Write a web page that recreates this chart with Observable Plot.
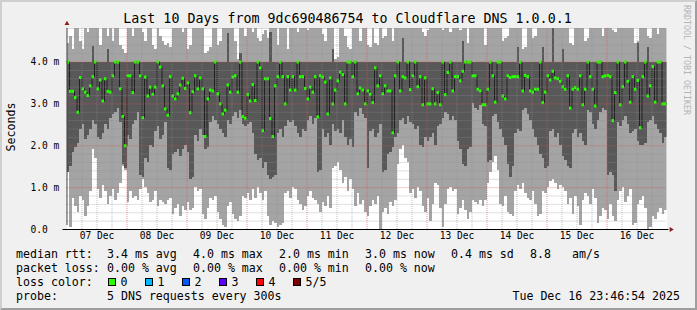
<!DOCTYPE html>
<html><head><meta charset="utf-8">
<script src="https://cdn.jsdelivr.net/npm/d3@7"></script>
<script src="https://cdn.jsdelivr.net/npm/@observablehq/plot@0.6"></script>
<style>
html,body{margin:0;padding:0;background:#f0f0f0;}
#wrap{position:relative;width:697px;height:310px;background:#f0f0f0;overflow:hidden;font-family:"DejaVu Sans Mono",monospace;}
#frame{position:absolute;left:0;top:0;width:697px;height:310px;box-sizing:border-box;border-top:2px solid #cfcfcf;border-left:2px solid #cfcfcf;border-right:2px solid #9e9e9e;border-bottom:2px solid #9e9e9e;pointer-events:none;}
#chart{position:absolute;left:0;top:0;}
#text{position:absolute;left:0;top:0;font-family:"DejaVu Sans Mono",monospace;}
</style></head>
<body><div id="wrap"><div id="chart"></div><svg id="text" width="697" height="310"></svg><div id="frame"></div></div>
<script>
// ---- data (ms), one value per 1-hour step, 07 Dec 00:00 -> 17 Dec 00:00 (UTC) ----
const startTime = Date.UTC(2025, 11, 7, 0, 0, 0);
const endTime = Date.UTC(2025, 11, 17, 0, 0, 0);
const stepMs = 3600 * 1000;

const medianRtt = [
 4.0,3.3,3.3,3.15,2.8,3.63,3.36,3.28,3.2,3.43, 3.65,4.0,3.36,3.57,3.07,3.6,3.3,3.28,3.67,4.0, 4.0,3.36,2.7,2.0,3.67,3.67,3.27,4.0,4.0,3.67, 2.67,3.64,3.19,3.4,3.23,3.4,4.0,3.88,3.43,2.88,
 2.73,3.65,3.19,3.12,3.24,3.45,3.61,3.37,3.5,2.79, 3.29,3.67,3.36,3.62,3.36,2.22,3.12,3.33,3.31,4.0, 3.24,3.0,2.76,2.85,3.45,3.28,3.64,3.67,3.28,4.0, 2.7,2.66,3.22,3.07,3.46,3.08,4.0,3.86,2.36,3.6,
 3.6,2.65,2.22,3.43,3.65,4.0,3.65,3.0,3.65,3.33, 3.65,3.33,4.0,3.65,3.65,3.37,3.12,3.4,3.28,3.65, 2.69,3.67,3.64,3.52,2.76,3.62,3.0,3.33,3.55,3.76, 3.7,3.0,4.0,4.0,3.65,4.0,3.24,3.38,3.33,3.0,
 3.31,3.23,3.03,3.86,3.43,3.67,3.24,3.43,3.31,3.31, 2.31,3.67,4.0,3.31,3.65,3.62,4.0,3.34,3.67,4.0, 3.41,3.65,2.98,3.62,3.0,3.0,3.36,3.0,3.27,2.98, 4.0,3.22,3.75,4.0,3.31,3.65,3.65,3.55,3.78,4.0,
 4.0,4.0,3.67,3.67,3.35,3.31,2.98,2.98,3.35,4.0, 3.67,3.04,4.0,4.0,3.19,3.12,3.67,3.63,3.65,3.65, 3.65,4.0,3.31,3.68,3.65,3.31,3.28,3.35,3.35,4.0, 3.03,3.28,3.67,3.57,3.78,3.62,3.6,3.54,3.41,3.35,
 3.67,2.9,3.35,3.39,3.35,3.67,2.98,3.35,4.0,3.65, 3.35,2.95,4.0,4.0,3.65,3.67,3.68,3.65,2.6,3.27, 4.0,2.98,3.41,4.0,3.54,3.04,3.65,3.35,3.56,2.43, 3.65,4.0,3.19,3.43,3.89,3.04,4.0,4.0,3.0,3.0
];
const pingMin = [
 1.35,0.05,0.75,0.55,0.4,0.8,0.7,0.3,0.55,0.9, 1.9,1.7,0.95,0.75,1.05,0.9,0.6,0.8,0.95,0.7, 0.85,1.1,1.5,1.4,0.65,0.9,0.75,0.8,0.7,0.95, 1.2,1.0,0.85,0.65,0.7,0.9,0.55,0.7,0.65,0.6,
 0.7,0.75,0.35,0.5,0.6,0.3,0.55,0.45,0.65,0.45, 0.5,1.0,0.9,0.95,0.35,0.25,0.5,0.75,0.7,0.8, 0.4,0.25,0.1,0.05,0.55,0.65,0.35,0.25,0.2,0.3, 0.8,0.75,0.85,0.7,0.95,0.75,1.0,0.85,0.7,0.9,
 0.3,0.1,0.2,0.15,0.05,0.1,0.15,0.85,0.9,0.75, 1.0,0.95,0.7,0.6,0.45,0.55,0.8,0.9,0.75,0.7, 0.6,0.4,0.65,0.55,0.8,0.5,1.45,1.5,1.6,1.4, 1.1,1.25,0.9,1.2,0.95,0.55,0.85,0.6,0.7,0.4,
 0.3,0.55,0.7,0.6,0.8,0.0,0.4,0.5,0.35,0.65, 0.55,0.7,1.55,1.9,2.0,1.7,1.6,0.85,0.95,0.75, 1.0,0.9,0.55,0.4,0.75,0.2,0.6,1.1,1.05,0.5, 0.05,0.6,0.95,1.0,0.9,0.95,0.35,0.5,0.7,0.45,
 0.25,0.4,0.7,0.65,0.6,0.7,0.55,0.7,1.1,1.35, 1.6,1.75,1.4,0.6,0.55,0.8,0.4,0.35,0.3,0.9, 1.05,0.95,1.1,0.85,0.75,0.7,0.9,0.6,0.3,0.35, 0.9,0.85,1.0,1.15,1.2,1.1,0.95,1.05,1.0,0.9,
 0.6,0.75,0.35,0.8,0.55,0.1,0.7,0.85,0.8,0.6, 0.95,0.75,0.15,0.3,0.5,0.45,0.25,0.6,0.3,0.2, 0.7,0.9,1.0,0.65,0.8,0.95,0.1,0.15,0.6,0.7, 0.8,0.5,0.0,0.05,0.3,0.25,0.4,0.5,0.35,0.45
];
const ping2 = [
 1.35,1.5,1.85,1.95,2.05,2.4,2.5,2.15,2.25,2.4, 2.6,2.5,2.2,2.15,2.3,2.5,2.4,2.65,2.75,2.8, 2.9,2.55,1.55,1.45,2.25,2.15,2.5,2.6,2.8,1.3, 1.25,1.7,1.6,2.0,1.95,2.35,2.45,2.15,2.25,2.55,
 1.45,1.4,1.8,1.85,1.9,1.75,1.9,2.0,1.85,1.2, 1.25,2.25,2.1,2.4,2.25,1.9,1.95,2.55,2.7,2.6, 2.5,2.4,2.3,2.2,2.6,2.5,2.7,2.8,2.65,2.85, 2.5,2.45,2.5,2.55,2.3,1.8,1.65,1.7,1.45,1.6,
 1.3,1.2,1.25,1.3,2.3,2.4,2.2,2.45,2.6,2.55, 2.6,2.45,2.3,2.2,2.4,2.35,2.6,2.7,2.5,2.65, 1.35,1.4,2.4,2.2,2.3,2.0,2.5,2.35,2.4,2.3, 2.6,2.2,2.0,2.15,1.95,2.8,2.7,2.9,2.75,2.65,
 1.45,2.35,2.4,2.2,2.3,2.5,1.35,1.4,1.8,1.85, 1.95,2.2,2.3,2.6,2.65,2.5,2.7,2.55,2.5,2.4, 2.45,2.0,1.95,2.2,2.1,2.2,2.3,2.0,2.45,2.5, 2.65,2.8,2.75,2.6,2.7,2.6,2.1,1.9,1.55,1.5,
 1.9,1.95,3.0,2.9,2.85,2.95,2.5,2.45,1.6,1.65, 2.7,2.75,2.55,2.4,2.2,2.0,1.55,1.25,1.5,2.3, 2.4,2.35,2.85,2.9,2.75,2.6,2.4,2.2,2.0,1.8, 1.7,1.45,1.5,2.35,2.4,2.2,2.3,2.0,1.75,1.65,
 1.5,1.45,2.3,2.4,2.2,2.3,2.1,2.0,2.85,2.8, 2.5,2.4,2.6,2.8,2.9,2.85,1.3,1.35,1.3,0.9, 2.55,2.45,2.6,2.7,2.5,2.3,2.35,2.4,2.1,2.0, 2.0,2.05,2.55,2.6,2.7,2.5,2.4,2.3,2.05,2.2
];
const ping4 = [
 4,4,4,4,4,4,4,4,4,4, 4.37,4,4,4,4,4,4.3,4,4,4, 4,4,4,4,4,4,4,4,4,4, 4,4,4,4,4,4,4,4,4,4,
 4,4,4,4,4,4,4,4,4,4, 4,4,4,4,4,4,4,4,4,4, 4,4,4,4,4.68,4,4,4,4,4.2, 4,4,4,4,4,4,4,4,4,4,
 4,4.7,4,4,4,4,4,4,4,4, 4,4,4,4,4,4,4,4,4,4, 4,4,4,4,4,4,4.3,4,4,4, 4,4,4,4,4,4,4,4,4,4,
 4,4,4,4,4,4,4,4,4,4, 4,4,4,4,4.55,4,4,4,4,4, 4,4,4,4,4,4,4,4,4,4, 4,4,4,4,4,4,4,4,4.5,4,
 4,4,4,4,4,4,4,4,4,4, 4,4,4,4,4,4,4,4,4,4, 4.35,4,4,4,4,4,4,4,4,4, 4.35,4,4,4,4.85,4,4,4,4.3,4,
 4,4,4,4,4,4,4,4,4,4, 4,4,4,4,4,4,4,4,4,4, 4,4,4,4,4,4,4,4,4.45,4, 4,4,4.35,4,4,4,4,4,4,4
];
const pingMax = [
 4.45,4.6,4.3,4.9,4.9,4.5,4.3,4.9,4.7,4.9, 4.9,4.9,4.8,4.4,4.9,4.9,4.6,4.9,4.5,4.9, 4.9,4.4,4.3,4.2,4.9,4.9,4.6,4.9,4.9,4.9, 4.7,4.5,4.9,4.9,4.4,4.3,4.9,4.6,4.5,4.4,
 4.45,4.35,4.9,4.9,4.9,4.9,4.7,4.9,4.3,4.4, 4.9,4.9,4.85,4.9,4.9,4.2,4.25,4.35,4.9,4.9, 4.4,4.5,4.9,4.9,4.9,4.9,4.9,4.5,4.05,4.9, 4.9,4.6,4.9,4.9,4.7,4.9,4.55,4.5,4.65,4.75,
 4.55,4.9,4.9,4.9,4.4,4.9,4.9,4.9,4.3,4.9, 4.9,4.9,4.7,4.9,4.9,4.9,4.75,4.9,4.9,4.9, 4.9,4.9,4.65,4.5,4.9,4.9,4.9,4.05,4.1,4.9, 4.9,4.6,4.35,4.3,4.9,4.9,4.9,4.5,4.9,4.9,
 4.4,4.35,4.9,4.45,4.4,4.9,4.55,4.6,4.9,4.9, 4.5,4.9,4.9,4.9,4.9,4.9,4.9,4.9,4.9,4.9, 4.9,4.9,4.7,4.6,4.75,4.8,4.9,4.9,4.9,4.9, 4.75,4.8,4.8,4.7,4.9,4.9,4.8,4.75,4.9,4.9,
 4.45,4.9,4.9,4.9,4.9,4.9,4.9,4.4,4.9,4.9, 4.9,4.9,4.9,4.9,4.5,4.55,4.6,4.9,4.9,4.9, 4.9,4.9,4.3,4.35,4.9,4.9,4.55,4.6,4.9,4.9, 4.9,4.9,4.9,4.9,4.9,4.9,4.9,4.9,4.9,4.9,
 4.9,4.45,4.4,4.9,4.9,4.9,4.9,4.5,4.55,4.9, 4.9,4.9,4.9,4.9,4.6,4.9,4.9,4.9,4.75,4.7, 4.9,4.9,4.9,4.9,4.9,4.9,4.9,4.45,4.5,4.9, 4.9,4.9,4.6,4.55,4.9,4.9,4.65,4.9,4.9,4.9
];

// ---- axis ticks ----
const yTicks = [0, 1, 2, 3, 4];
const yTickLabels = ["0.0", "1.0 m", "2.0 m", "3.0 m", "4.0 m"];
const xTickDays = [7, 8, 9, 10, 11, 12, 13, 14, 15, 16];
const xTickLabels = ["07 Dec", "08 Dec", "09 Dec", "10 Dec", "11 Dec", "12 Dec", "13 Dec", "14 Dec", "15 Dec", "16 Dec"];

// ---- texts ----
const titleText = "Last 10 Days from 9dc690486754 to Cloudflare DNS 1.0.0.1";
const rttLabel = "median rtt:";
const rttValues = ["3.4 ms avg", "4.0 ms max", "2.0 ms min", "3.0 ms now", "0.4 ms sd", "8.8", "am/s"];
const lossLabel = "packet loss:";
const lossValues = ["0.00 % avg", "0.00 % max", "0.00 % min", "0.00 % now"];
const lossColorLabel = "loss color:";
const lossColorNames = ["0", "1", "2", "3", "4", "5/5"];
const lossColors = ["#26ff00", "#00b8ff", "#0059ff", "#5e00ff", "#ff0000", "#7e0000"];
const probeLabel = "probe:";
const probeText = "5 DNS requests every 300s";
const dateText = "Tue Dec 16 23:46:54 2025";

// ---- build ----
const data = medianRtt.map((med, i) => ({
  t0: new Date(startTime + i * stepMs),
  t1: new Date(startTime + (i + 1) * stepMs),
  min: pingMin[i], p2: ping2[i], med, p4: ping4[i], max: pingMax[i]
}));
const lineData = data.map(d => ({t: d.t0, v: d.med}));
lineData.push({t: data[data.length - 1].t1, v: data[data.length - 1].med});

const x0 = new Date(startTime), x1 = new Date(endTime);
const majorY = [1, 2, 3, 4];
const minorY = d3.range(1, 25).filter(k => k % 5 !== 0).map(k => k / 5);
const majorX = d3.range(1, 10).map(k => new Date(startTime + k * 24 * stepMs));
const minorX = d3.range(1, 40).filter(k => k % 4 !== 0).map(k => new Date(startTime + k * 6 * stepMs));
const xTicks = xTickDays.map(d => new Date(Date.UTC(2025, 11, d, 12)));
const xLabelMap = new Map(xTicks.map((d, i) => [+d, xTickLabels[i]]));
const yLabelMap = new Map(yTicks.map((d, i) => [d, yTickLabels[i]]));

const chart = Plot.plot({
  width: 697, height: 245,
  marginTop: 28, marginBottom: 16, marginLeft: 66.5, marginRight: 30.5,
  x: {type: "utc", domain: [x0, x1]},
  y: {domain: [0, 4.8]},
  style: {background: "transparent", fontFamily: "DejaVu Sans Mono", fontSize: "9.6px", color: "black", overflow: "visible"},
  marks: [
    Plot.frame({fill: "white", stroke: null}),
    Plot.rect(data, {x1: "t0", x2: "t1", y1: "min", y2: "max", fill: "#a4a4a4", clip: true, shapeRendering: "crispEdges"}),
    Plot.rect(data, {x1: "t0", x2: "t1", y1: "p2", y2: "p4", fill: "#585858", clip: true, shapeRendering: "crispEdges"}),
    Plot.line(lineData, {x: "t", y: "v", curve: "step-after", stroke: "#202020", strokeWidth: 1}),
    Plot.ruleY(data, {y: "med", x1: "t0", x2: "t1", stroke: "#26ff00", strokeWidth: 3}),
    Plot.ruleY(minorY, {stroke: "#8f8f8f", strokeOpacity: 0.55, strokeDasharray: "1,1"}),
    Plot.ruleX(minorX, {stroke: "#8f8f8f", strokeOpacity: 0.55, strokeDasharray: "1,1"}),
    Plot.ruleY(majorY, {stroke: "#de5050", strokeOpacity: 0.6, strokeDasharray: "1,1"}),
    Plot.ruleX(majorX, {stroke: "#de5050", strokeOpacity: 0.6, strokeDasharray: "1,1"}),
    Plot.axisY({ticks: yTicks, tickFormat: d => yLabelMap.get(d), tickSize: 4, tickPadding: 0, textAnchor: "start", dx: -32.5, fontSize: 9.6, stroke: null}),
    Plot.axisX({ticks: xTicks, tickFormat: d => xLabelMap.get(+d), tickSize: 0, tickPadding: 3, fontSize: 9.6}),
    Plot.ruleX([x0], {y1: 0, y2: 4.8, stroke: "#404040", insetTop: -4}),
    Plot.ruleY([0], {stroke: "black", insetLeft: -4, insetRight: -2}),
    Plot.dot([x0], {x: d => d, y: () => 4.8, dy: -5, symbol: "triangle2", r: 2.3, fill: "#8b1a1a", stroke: null}),
    Plot.dot([x1], {x: d => d, y: () => 0, dx: 4, rotate: 90, symbol: "triangle2", r: 2.3, fill: "#8b1a1a", stroke: null})
  ]
});
document.getElementById("chart").appendChild(chart);

// ---- texts ----
const svg = d3.select("#text");
function txt(x, y, s, size, opts = {}) {
  return svg.append("text").attr("x", x).attr("y", y)
    .attr("font-size", size).attr("fill", opts.fill || "#000")
    .attr("text-anchor", opts.anchor || "start")
    .attr("font-family", "DejaVu Sans Mono")
    .attr("transform", opts.transform || null)
    .style("white-space", "pre").text(s);
}
txt(347.5, 23, titleText, 13.3, {anchor: "middle"});
txt(0, 0, "Seconds", 11.6, {anchor: "middle", transform: "translate(15,127) rotate(-90)"});
txt(0, 0, "RRDTOOL / TOBI OETIKER", 8.3, {fill: "#b4b4b4", transform: "translate(684,5) rotate(90)"});

const rowY = [257.5, 271.5, 285.5, 299.5];
const colX = [107, 193, 279, 365, 451, 530, 572];
txt(16, rowY[0], rttLabel, 11.6);
rttValues.forEach((s, i) => txt(colX[i], rowY[0], s, 11.6));
txt(16, rowY[1], lossLabel, 11.6);
lossValues.forEach((s, i) => txt(colX[i], rowY[1], s, 11.6));
txt(16, rowY[2], lossColorLabel, 11.6);
lossColorNames.forEach((s, i) => {
  const sx = 108 + 37 * i;
  svg.append("rect").attr("x", sx + 0.5).attr("y", 278.5).attr("width", 7).attr("height", 7)
    .attr("fill", lossColors[i]).attr("stroke", "#000").attr("stroke-width", 1);
  txt(sx + 12.5, rowY[2], s, 11.6);
});
txt(16, rowY[3], probeLabel, 11.6);
txt(107, rowY[3], probeText, 11.6);
txt(680, rowY[3], dateText, 11.6, {anchor: "end"});
</script>
</body></html>
